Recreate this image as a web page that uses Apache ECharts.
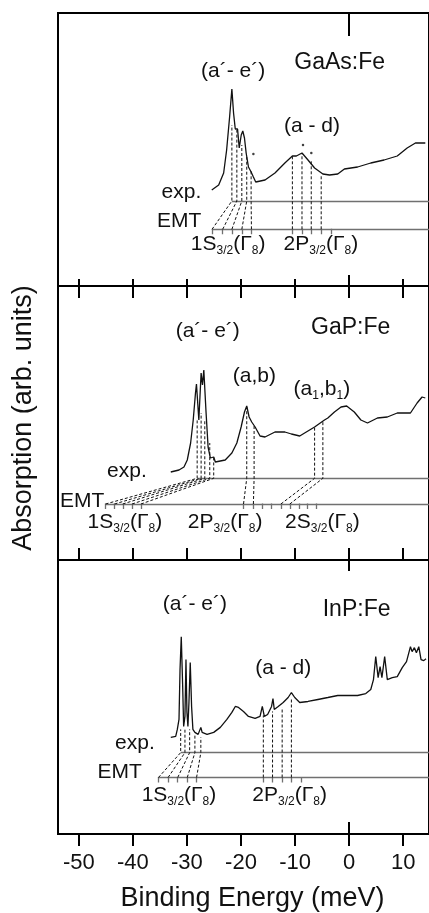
<!DOCTYPE html>
<html>
<head>
<meta charset="utf-8">
<script src="https://cdn.jsdelivr.net/npm/echarts@6/dist/echarts.min.js"></script>
<style>
  html, body { margin: 0; padding: 0; background: #fff; }
  #chart { width: 429px; height: 913px; }
</style>
</head>
<body>
<div id="chart"></div>
<script>
// ---- axis ----
const tickValues = [-50, -40, -30, -20, -10, 0, 10];
const X_MIN = -53.85;
const X_MAX = 14.77;

// ---- GaAs:Fe absorption spectrum (binding energy in meV, absorption in arb. units) ----
const gaasEnergy = [-25.41, -24.13, -23.21, -22.66, -22.11, -21.69, -21.38, -21.06, -20.64, -20.33,
  -19.96, -19.67, -19.36, -19.05, -18.62, -18.13, -17.71, -17.28, -16.92, -15.56, -13.72, -11.89,
  -10.50, -9.76, -8.72, -7.61, -6.39, -4.86, -3.63, -2.11, -0.88, 1.56, 4.00, 6.46, 8.90, 10.73,
  12.26, 14.09];
const gaasAbs = [96, 101, 113, 136, 169, 197, 173, 157, 157, 138,
  151, 155, 148, 133, 119, 114, 109, 104, 103, 106, 113, 123,
  130, 130, 133, 126, 118, 112, 111, 112, 117, 119, 123, 126, 130, 138,
  143, 143];

// ---- GaP:Fe absorption spectrum ----
const gapEnergy = [-32.99, -31.47, -30.55, -29.94, -29.32, -28.84, -28.42, -28.24, -27.80, -27.38,
  -27.13, -26.88, -26.46, -26.09, -25.67, -25.05, -24.75, -22.92, -21.69, -20.77, -19.98, -19.36,
  -18.94, -18.50, -18.02, -17.39, -16.48, -15.56, -13.72, -11.89, -10.68, -9.14, -8.23, -6.39,
  -4.56, -3.94, -2.72, -1.50, -0.46, 0.95, 2.17, 3.39, 5.23, 7.06, 8.90, 11.34, 12.57, 13.49, 14.09];
const gapAbs = [88, 90, 93, 100, 117, 140, 167, 176, 140, 187,
  175, 190, 147, 113, 102, 103, 98, 100, 107, 117, 133, 148,
  154, 143, 138, 133, 124, 123, 128, 128, 126, 124, 127, 133,
  140, 142, 148, 153, 154, 148, 140, 137, 142, 143, 147, 147, 157, 163, 162];

// ---- InP:Fe absorption spectrum ----
const inpEnergy = [-32.99, -32.08, -31.78, -31.47, -31.28, -31.05, -30.79, -30.61, -30.37, -30.18,
  -30.00, -29.82, -29.63, -29.39, -29.14, -28.90, -28.53, -28.17, -27.93, -27.43, -27.19, -26.28,
  -25.05, -23.83, -22.61, -21.69, -21.06, -20.46, -19.54, -18.62, -17.39, -16.48, -16.06, -15.69,
  -15.08, -14.35, -14.09, -13.85, -13.12, -12.20, -11.28, -10.68, -10.06, -9.14, -7.61, -5.78,
  -3.94, -2.11, -0.28, 1.56, 3.08, 4.00, 4.50, 4.92, 5.36, 5.72, 6.06, 6.57, 7.06, 7.98, 8.90,
  9.82, 10.61, 11.34, 11.65, 12.07, 12.44, 12.88, 13.30, 13.80, 14.22];
const inpAbs = [97, 98, 105, 115, 165, 198, 148, 108, 118, 175,
  122, 108, 132, 172, 128, 105, 102, 103, 100, 107, 102, 100,
  102, 107, 115, 122, 128, 127, 123, 118, 116, 118, 128, 118,
  120, 128, 136, 125, 128, 132, 137, 142, 137, 132, 133, 135,
  137, 139, 139, 139, 141, 145, 155, 178, 157, 168, 157, 178, 155, 157, 158,
  167, 173, 188, 183, 187, 182, 188, 175, 174, 176];

// ---- effective-mass-theory levels (EMT) and observed lines (exp.), meV ----
const gaasEmt1S = [-25.36, -23.39, -21.69, -19.85, -18.07];
const gaasExp1S = [-21.69, -20.77, -19.85, -18.94, -18.13];
const gaasTop1S = [161, 156, 141, 129, 116];
const gaasEmt2P = [-10.50, -8.72, -7.01, -5.17, -3.34];
const gaasExp2P = [-10.50, -8.72, -7.01, -5.17];
const gaasTop2P = [130, 133, 126, 111];

const gapEmt1S = [-45.05, -43.39, -41.87, -40.15, -38.50];
const gapExp1S = [-28.11, -27.38, -26.70, -25.78, -25.05];
const gapTop1S = [140, 147, 140, 117, 103];
const gapEmt2P = [-19.54, -17.71, -16.06, -14.35];
const gapExp2P = [-18.94, -17.58];
const gapTop2P = [153, 136];
const gapEmt2S = [-12.62, -10.97, -9.32, -7.74, -6.09];
const gapExp2S = [-6.39, -4.86];
const gapTop2S = [133, 139];

const inpEmt1S = [-35.27, -33.49, -31.71, -29.94, -28.22];
const inpExp1S = [-31.16, -30.37, -29.50, -28.53, -27.43];
const inpTop1S = [105, 105, 105, 100, 97];
const inpEmt2P = [-15.87, -14.17, -12.39, -10.68, -8.95];
const inpExp2P = [-15.87, -14.17, -12.39, -10.68];
const inpTop2P = [119, 123, 127, 135];

// small marks above the GaAs lines
const gaasMarkE = [-17.71, -8.53, -7.00];
const gaasMarkA = [132, 141, 133];

// ---- layout ----
const FONT = '"Liberation Sans", Arial, Helvetica, sans-serif';
const TEXT = '#111';
const panels = [
  {
    top: 13, height: 273, axis: 0,
    energy: gaasEnergy, abs: gaasAbs,
    expY: 85, emtY: 56.7, expStart: gaasExp1S[0], emtStart: gaasEmt1S[0],
    groups: [[gaasEmt1S, gaasExp1S, gaasTop1S], [gaasEmt2P, gaasExp2P, gaasTop2P]],
    marks: gaasMarkE.map((e, i) => [e, gaasMarkA[i]]),
    notes: [
      { x: -21.38, y: 214, t: '(a´- e´)' },
      { x: -1.65, y: 223, t: 'GaAs:Fe', big: true },
      { x: -6.79, y: 159, t: '(a - d)' },
      { x: -27.25, y: 93, t: 'exp.', align: 'right' },
      { x: -27.25, y: 64, t: 'EMT', align: 'right' },
      { x: -22.29, y: 41, t: '1S{s|3/2}(Γ{s|8})' },
      { x: -5.14, y: 41, t: '2P{s|3/2}(Γ{s|8})' }
    ]
  },
  {
    top: 286, height: 274, axis: 4,
    energy: gapEnergy, abs: gapAbs,
    expY: 81.7, emtY: 56, expStart: gapExp1S[0], emtStart: gapEmt1S[0],
    groups: [[gapEmt1S, gapExp1S, gapTop1S], [gapEmt2P, gapExp2P, gapTop2P], [gapEmt2S, gapExp2S, gapTop2S]],
    marks: [],
    notes: [
      { x: -26.06, y: 228, t: '(a´- e´)' },
      { x: 0.37, y: 232, t: 'GaP:Fe', big: true },
      { x: -17.43, y: 183, t: '(a,b)' },
      { x: -4.95, y: 170, t: '(a{s|1},b{s|1})' },
      { x: -37.34, y: 88, t: 'exp.', align: 'right' },
      { x: -45.2, y: 58, t: 'EMT', align: 'right' },
      { x: -41.38, y: 37, t: '1S{s|3/2}(Γ{s|8})' },
      { x: -22.84, y: 37, t: '2P{s|3/2}(Γ{s|8})' },
      { x: -4.86, y: 37, t: '2S{s|3/2}(Γ{s|8})' }
    ]
  },
  {
    top: 560, height: 275, axis: 6,
    energy: inpEnergy, abs: inpAbs,
    expY: 81.7, emtY: 56.7, expStart: inpExp1S[0], emtStart: inpEmt1S[0],
    groups: [[inpEmt1S, inpExp1S, inpTop1S], [inpEmt2P, inpExp2P, inpTop2P]],
    marks: [],
    notes: [
      { x: -28.44, y: 230, t: '(a´- e´)' },
      { x: 1.47, y: 225, t: 'InP:Fe', big: true },
      { x: -12.11, y: 166, t: '(a - d)' },
      { x: -35.87, y: 91, t: 'exp.', align: 'right' },
      { x: -38.26, y: 62, t: 'EMT', align: 'right' },
      { x: -31.38, y: 38, t: '1S{s|3/2}(Γ{s|8})' },
      { x: -10.92, y: 38, t: '2P{s|3/2}(Γ{s|8})' }
    ]
  }
];

const tickLine = { lineStyle: { color: '#000', width: 2 } };
function xAxis(grid, pos, offset, values, inside, len, extra) {
  return Object.assign({
    type: 'value', gridIndex: grid, position: pos, offset: offset,
    min: X_MIN, max: X_MAX,
    axisLine: { show: false },
    axisTick: Object.assign({ show: true, inside: inside, length: len, customValues: values }, tickLine),
    axisLabel: { show: false },
    splitLine: { show: false }
  }, extra || {});
}

const xAxes = [
  xAxis(0, 'top', 0, tickValues, true, 12),
  xAxis(0, 'top', 0, [0], true, 23),
  xAxis(0, 'bottom', 7, tickValues, true, 14),
  xAxis(0, 'bottom', 11, [0], true, 22),
  xAxis(1, 'bottom', 6, tickValues, true, 12),
  xAxis(1, 'bottom', 11, [0], true, 23),
  xAxis(2, 'bottom', 0, tickValues, false, 12, {
    axisLabel: {
      show: true, customValues: tickValues, margin: 18,
      color: TEXT, fontSize: 22, fontFamily: FONT
    },
    name: 'Binding Energy (meV)', nameLocation: 'middle', nameGap: 51,
    nameTextStyle: { color: TEXT, fontSize: 27, fontFamily: FONT, padding: [0, 0, 0, 18] }
  }),
  xAxis(2, 'bottom', 9, [0], true, 21)
];

const grids = panels.map(p => ({
  left: 58, right: -3, top: p.top, height: p.height,
  show: true, borderColor: '#000', borderWidth: 2, backgroundColor: 'transparent'
}));
const yAxes = panels.map((p, i) => ({
  type: 'value', gridIndex: i, min: 0, max: p.height, show: false
}));

const series = [];
panels.forEach((p, i) => {
  const ax = { xAxisIndex: p.axis, yAxisIndex: i };
  // exp. and EMT level lines, with the EMT level ticks
  series.push(Object.assign({
    type: 'lines', coordinateSystem: 'cartesian2d', silent: true, z: 2,
    lineStyle: { color: '#707070', width: 1.3, opacity: 1 },
    data: [
      { coords: [[p.expStart, p.expY], [X_MAX, p.expY]] },
      { coords: [[p.emtStart, p.emtY], [X_MAX, p.emtY]] }
    ].concat(p.groups.flatMap(g => g[0].map(e => ({ coords: [[e, p.emtY + 0.5], [e, p.emtY - 5]] }))))
  }, ax));
  // dashed assignments: EMT level -> observed line -> spectrum
  const dashed = [];
  p.groups.forEach(g => {
    const [emt, exp, top] = g;
    exp.forEach((x, k) => {
      dashed.push({ coords: [[emt[k], p.emtY], [x, p.expY], [x, top[k]]] });
    });
  });
  series.push(Object.assign({
    type: 'lines', coordinateSystem: 'cartesian2d', polyline: true, silent: true, z: 3,
    lineStyle: { color: '#111', width: 1, type: [3, 2], opacity: 1 },
    data: dashed
  }, ax));
  // spectrum
  series.push(Object.assign({
    type: 'line', showSymbol: false, silent: true, z: 4,
    lineStyle: { color: '#111', width: 1.3 },
    data: p.energy.map((e, k) => [e, p.abs[k]])
  }, ax));
  if (p.marks.length) {
    series.push(Object.assign({
      type: 'scatter', symbolSize: 2.5, silent: true, z: 4,
      itemStyle: { color: '#111' }, data: p.marks
    }, ax));
  }
  // text annotations
  series.push(Object.assign({
    type: 'scatter', symbolSize: 1, silent: true, z: 5,
    itemStyle: { color: '#111', opacity: 0 },
    data: p.notes.map(n => ({
      value: [n.x, n.y],
      label: {
        show: true, position: [0, 0],
        align: n.align || 'center', verticalAlign: 'middle',
        formatter: n.t,
        fontSize: n.big ? 23 : 21, lineHeight: 24,
        color: TEXT, fontFamily: FONT, opacity: 1,
        textBorderWidth: 0, textShadowBlur: 0,
        rich: { s: { fontSize: 12, lineHeight: 12, verticalAlign: 'bottom', color: TEXT, fontFamily: FONT, textBorderWidth: 0 } }
      }
    }))
  }, ax));
});

const chart = echarts.init(document.getElementById('chart'), null, { renderer: 'canvas' });
chart.setOption({
  animation: false,
  backgroundColor: '#fff',
  grid: grids,
  xAxis: xAxes,
  yAxis: yAxes,
  series: series,
  graphic: [{
    type: 'text', x: 24, y: 418, rotation: Math.PI / 2, silent: true,
    style: {
      text: 'Absorption (arb. units)', fill: TEXT, font: '27px ' + FONT,
      textAlign: 'center', textVerticalAlign: 'middle'
    }
  }]
});
</script>
</body>
</html>
